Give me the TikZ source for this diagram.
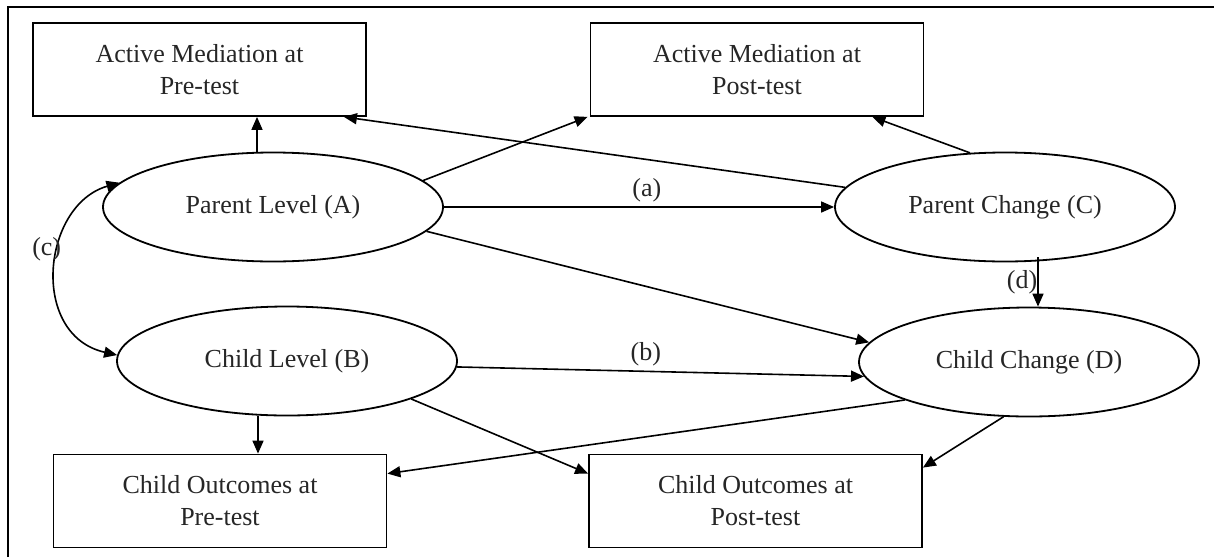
\documentclass[tikz,border=0pt]{standalone}
\usepackage{fontspec}
\setmainfont{Liberation Serif}
\usetikzlibrary{arrows.meta,shapes.geometric}
\begin{document}
\begin{tikzpicture}[x=1pt,y=-1pt,
  txt/.style={font=\fontsize{26}{32}\selectfont,text=black!85},
  box/.style={txt,draw,line width=1.8pt,minimum width=333pt,minimum height=93pt,inner sep=0pt,align=center},
  ell/.style={txt,draw,ellipse,line width=1.8pt,minimum width=340pt,minimum height=109pt,inner sep=0pt},
  arr/.style={line width=1.6pt,-{Triangle[length=13pt,width=11pt]}},
  arrboth/.style={line width=1.6pt,{Triangle[length=13pt,width=11pt]}-{Triangle[length=13pt,width=11pt]}},
  lbl/.style={txt,inner sep=0pt}]
\useasboundingbox (0,0) rectangle (1214,557);
\draw[line width=2.5pt] (8,557) -- (8,7) -- (1214,7);

\node[box] (AMpre)  at (199.5,69.5) {Active Mediation at\\Pre-test};
\node[box] (AMpost) at (757,69.5)   {Active Mediation at\\Post-test};
\node[ell] (A) at (273,207) {Parent Level (A)};
\node[ell] (C) at (1005,207) {Parent Change (C)};
\node[ell] (B) at (287,361) {Child Level (B)};
\node[ell] (D) at (1029,362) {Child Change (D)};
\node[box] (COpre)  at (220,501) {Child Outcomes at\\Pre-test};
\node[box] (COpost) at (755.5,501) {Child Outcomes at\\Post-test};

% arrows to top boxes
\draw[arr] ([xshift=-16pt]A.north) -- ([xshift=-16pt]A.north |- AMpre.south);
\draw[arr] (A.10) -- ([xshift=-2pt]AMpost.south west);
\draw[arr] (C.173) -- ([xshift=-23pt]AMpre.south east);
\draw[arr] (C.123) -- ([xshift=-52pt]AMpost.south east);

% structural paths
\draw[arr] (A.east) -- node[lbl,pos=0.52,above=4pt] {(a)} (C.west);
\draw[arr] (A.-9) -- (D.173);
\draw[arr] (B.-2) -- node[lbl,pos=0.464,above=5pt] {(b)} (D.185);
\draw[arr] ([xshift=33pt,yshift=5pt]C.south) -- node[lbl,pos=0.5,left=0pt] {(d)} ([xshift=33pt]C.south |- D.north);
\draw[arrboth] (A.171) .. controls (42,205) and (29,335) .. node[lbl,pos=0.42,xshift=-12pt,yshift=2pt] {(c)} (B.178);

% arrows to bottom boxes
\draw[arr] ([xshift=-29pt]B.south) -- ([xshift=-29pt]B.south |- COpre.north);
\draw[arr] (B.-17.5) -- ([yshift=-20pt]COpost.north west);
\draw[arr] (D.197) -- ([yshift=-20pt]COpre.north east);
\draw[arr] (D.-115.5) -- ([yshift=-14pt]COpost.north east);
\end{tikzpicture}
\end{document}
